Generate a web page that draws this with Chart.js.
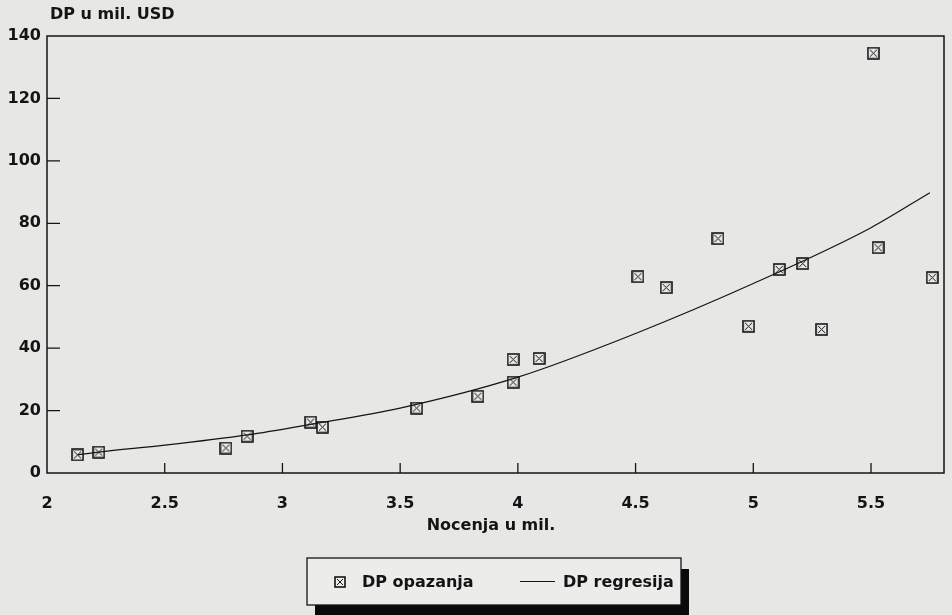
<!DOCTYPE html>
<html>
<head>
<meta charset="utf-8">
<script src="https://cdn.jsdelivr.net/npm/chart.js@4"></script>
<style>
  html, body { margin: 0; padding: 0; background: #e7e7e5; }
  canvas { display: block; }
</style>
</head>
<body>
<canvas id="chart" width="952" height="615"></canvas>
<script>
// Observed points (Nocenja u mil. / DP u mil. USD)
const obsX = [2.13, 2.22, 2.76, 2.85, 3.12, 3.17, 3.57, 3.83, 3.98, 3.98, 4.09, 4.51, 4.63, 4.85, 4.98, 5.11, 5.21, 5.29, 5.51, 5.53, 5.76];
const obsY = [5.8, 6.7, 8.0, 11.8, 16.3, 14.7, 20.8, 24.6, 29.1, 36.4, 36.7, 62.9, 59.4, 75.1, 47.0, 65.2, 67.1, 46.0, 134.5, 72.2, 62.6];

// Regression curve
const regX = [2.13, 2.22, 2.5, 2.85, 3.12, 3.5, 4.0, 4.5, 5.0, 5.5, 5.75];
const regY = [5.8, 6.7, 8.9, 12.2, 15.6, 20.8, 30.7, 44.7, 60.7, 78.6, 89.8];

// Tick labels
const xTicks = [2, 2.5, 3, 3.5, 4, 4.5, 5, 5.5];
const yTicks = [0, 20, 40, 60, 80, 100, 120, 140];

const paper = '#e7e7e5';
const ink = '#141414';
const family = '"DejaVu Sans", Verdana, sans-serif';

// boxed-X marker
function makeMarker(size) {
    const c = document.createElement('canvas');
    c.width = size; c.height = size;
    const g = c.getContext('2d');
    g.strokeStyle = ink;
    g.lineWidth = 1.6;
    g.strokeRect(1, 1, size - 2, size - 2);
    g.lineWidth = 1;
    g.beginPath();
    g.moveTo(3, 3); g.lineTo(size - 3, size - 3);
    g.moveTo(size - 3, 3); g.lineTo(3, size - 3);
    g.stroke();
    return c;
}
const marker = makeMarker(13);
const legendMarker = makeMarker(12);

const decor = {
    id: 'decor',
    beforeDraw(chart) {
        const ctx = chart.ctx;
        ctx.save();
        ctx.fillStyle = paper;
        ctx.fillRect(0, 0, chart.width, chart.height);
        ctx.restore();
    },
    afterDraw(chart) {
        const ctx = chart.ctx;
        const a = chart.chartArea;
        const xs = chart.scales.x, ys = chart.scales.y;
        ctx.save();
        ctx.strokeStyle = ink;

        // frame
        ctx.lineWidth = 1.5;
        ctx.strokeRect(a.left, a.top, a.right - a.left, a.bottom - a.top);

        // inward tick marks
        ctx.lineWidth = 1.3;
        ctx.beginPath();
        yTicks.slice(1, -1).forEach(v => {
            const y = ys.getPixelForValue(v);
            ctx.moveTo(a.left, y); ctx.lineTo(a.left + 13, y);
        });
        xTicks.slice(1).forEach(v => {
            const x = xs.getPixelForValue(v);
            ctx.moveTo(x, a.bottom); ctx.lineTo(x, a.bottom - 10);
        });
        ctx.stroke();

        // axis titles
        ctx.fillStyle = ink;
        ctx.font = 'bold 16px ' + family;
        ctx.textBaseline = 'middle';
        ctx.textAlign = 'left';
        ctx.fillText('DP u mil. USD', 50, 15);
        ctx.textAlign = 'center';
        ctx.fillText('Nocenja u mil.', 491, 526);

        // legend box with shadow
        const lx = 307, ly = 558, lw = 374, lh = 47;
        ctx.fillStyle = '#0a0a0a';
        ctx.fillRect(lx + 8, ly + 11, lw, lh);
        ctx.fillStyle = '#ececea';
        ctx.fillRect(lx, ly, lw, lh);
        ctx.lineWidth = 1.3;
        ctx.strokeRect(lx, ly, lw, lh);

        const sets = chart.data.datasets;
        ctx.drawImage(legendMarker, 334, 576);
        ctx.fillStyle = ink;
        ctx.textAlign = 'left';
        ctx.font = 'bold 16px ' + family;
        ctx.fillText(sets[0].label, 362, 583);
        ctx.lineWidth = 1;
        ctx.beginPath();
        ctx.moveTo(520, 581.5); ctx.lineTo(555, 581.5);
        ctx.stroke();
        ctx.fillText(sets[1].label, 563, 583);
        ctx.restore();
    }
};

new Chart(document.getElementById('chart'), {
    type: 'scatter',
    data: {
        datasets: [
            {
                label: 'DP opazanja',
                data: obsX.map((x, i) => ({ x: x, y: obsY[i] })),
                pointStyle: marker,
                pointRadius: 7,
                showLine: false
            },
            {
                label: 'DP regresija',
                data: regX.map((x, i) => ({ x: x, y: regY[i] })),
                showLine: true,
                borderColor: ink,
                borderWidth: 1.2,
                pointRadius: 0,
                cubicInterpolationMode: 'monotone',
                fill: false
            }
        ]
    },
    options: {
        responsive: false,
        animation: false,
        layout: { padding: { top: 36, right: 6, left: 0, bottom: 0 } },
        plugins: {
            legend: { display: false },
            tooltip: { enabled: false }
        },
        scales: {
            x: {
                type: 'linear',
                min: 2,
                max: 5.81,
                afterBuildTicks: s => { s.ticks = xTicks.map(v => ({ value: v })); },
                afterFit: s => { s.height = 142; },
                grid: { display: false, drawTicks: false },
                border: { display: false },
                ticks: {
                    color: ink,
                    font: { family: family, size: 16, weight: 'bold' },
                    padding: 21,
                    maxRotation: 0,
                    autoSkip: false,
                    callback: v => String(v)
                }
            },
            y: {
                min: 0,
                max: 140,
                afterBuildTicks: s => { s.ticks = yTicks.map(v => ({ value: v })); },
                afterFit: s => { s.width = 47; },
                grid: { display: false, drawTicks: false },
                border: { display: false },
                ticks: {
                    color: ink,
                    font: { family: family, size: 16, weight: 'bold' },
                    padding: 6,
                    callback: v => String(v)
                }
            }
        }
    },
    plugins: [decor]
});
</script>
</body>
</html>
